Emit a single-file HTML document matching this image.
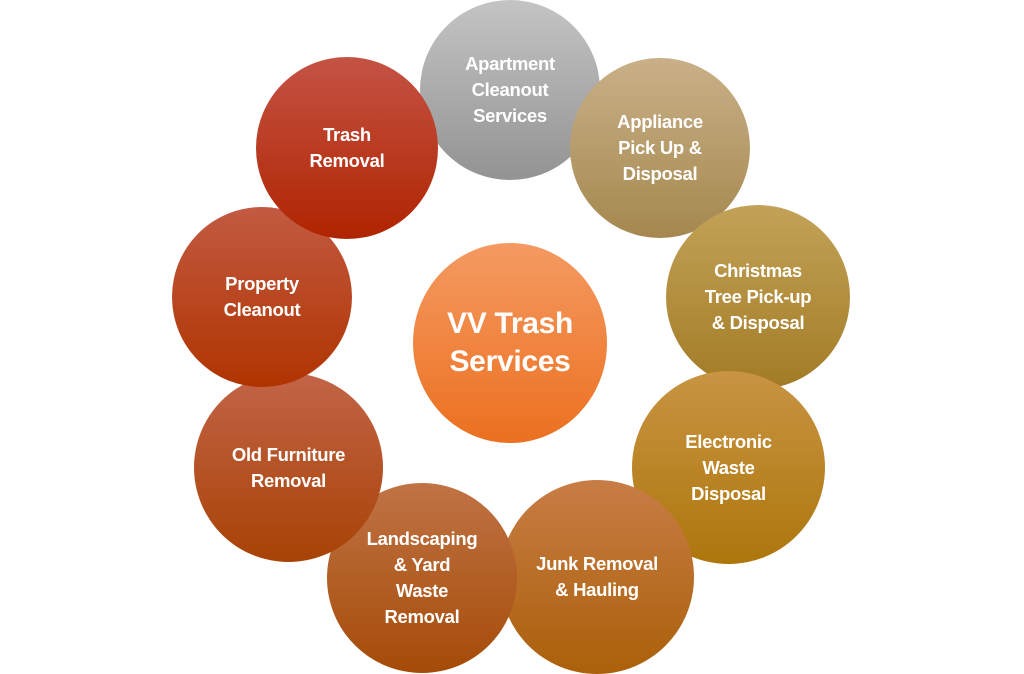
<!DOCTYPE html>
<html><head><style>
body{margin:0;width:1024px;height:673px;background:#fff;overflow:hidden;position:relative;font-family:"Liberation Sans",sans-serif}
.c{position:absolute;border-radius:50%;display:flex;align-items:center;justify-content:center;text-align:center;color:#fff;font-weight:bold;font-size:18.5px;line-height:26px;box-sizing:border-box;letter-spacing:-0.3px}
</style></head><body>
<div class="c" style="left:420px;top:0px;width:180px;height:180px;background:linear-gradient(#c4c4c4,#939393)">Apartment<br>Cleanout<br>Services</div>
<div class="c" style="left:570px;top:58px;width:180px;height:180px;background:linear-gradient(#c9b088,#a5884f)">Appliance<br>Pick Up &amp;<br>Disposal</div>
<div class="c" style="left:666px;top:205px;width:184px;height:184px;background:linear-gradient(#c3a258,#a27b25)">Christmas<br>Tree Pick-up<br>&amp; Disposal</div>
<div class="c" style="left:632px;top:371px;width:193px;height:193px;background:linear-gradient(#c99443,#ad760c)">Electronic<br>Waste<br>Disposal</div>
<div class="c" style="left:500px;top:480px;width:194px;height:194px;background:linear-gradient(#c77d45,#ab600a)">Junk Removal<br>&amp; Hauling</div>
<div class="c" style="left:327px;top:483px;width:190px;height:190px;background:linear-gradient(#c07345,#a54b08)">Landscaping<br>&amp; Yard<br>Waste<br>Removal</div>
<div class="c" style="left:194px;top:373px;width:189px;height:189px;background:linear-gradient(#c26448,#a84205)">Old Furniture<br>Removal</div>
<div class="c" style="left:172px;top:207px;width:180px;height:180px;background:linear-gradient(#c25a42,#b03400)">Property<br>Cleanout</div>
<div class="c" style="left:256px;top:57px;width:182px;height:182px;background:linear-gradient(#c45345,#b02400)">Trash<br>Removal</div>
<div class="c" style="left:413px;top:243px;width:194px;height:200px;background:linear-gradient(#f49a62,#ec7020);font-size:30px;line-height:38px">VV Trash<br>Services</div>
</body></html>
